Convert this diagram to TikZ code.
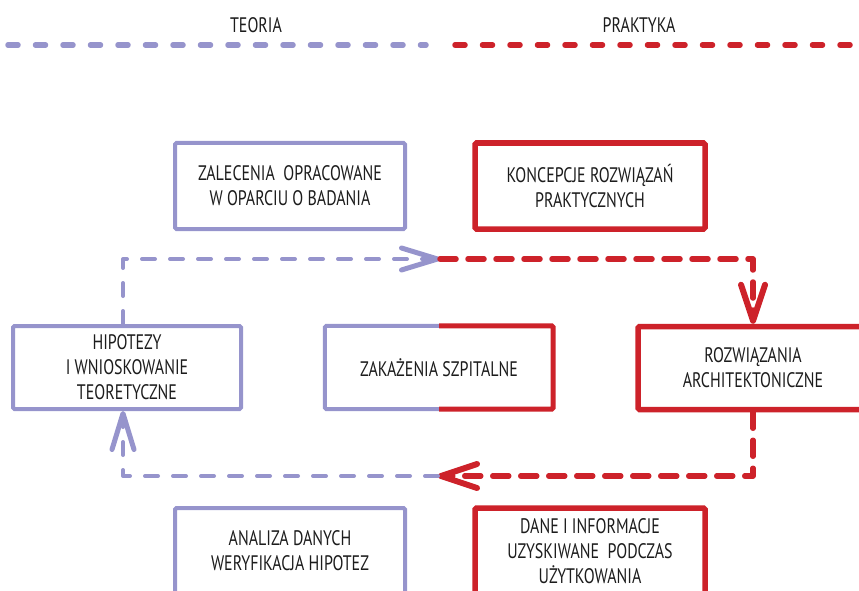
\documentclass[tikz,border=0pt]{standalone}
\usepackage{fontspec}
\setmainfont[FakeStretch=0.76]{PT Sans}
\usetikzlibrary{arrows.meta}
\definecolor{teo}{RGB}{150,148,204}
\definecolor{prak}{RGB}{205,34,42}
\definecolor{txt}{RGB}{28,28,28}
\begin{document}
\begin{tikzpicture}[x=1pt,y=-1pt,
  lbl/.style={font=\fontsize{21}{24}\selectfont, text=txt, inner sep=0pt},
  box/.style={minimum width=230pt, minimum height=86pt, align=center, inner sep=0pt,
    font=\fontsize{21}{25}\selectfont, text=txt, rounded corners=1.5pt},
  tbox/.style={box, draw=teo, line width=4pt},
  pbox/.style={box, draw=prak, line width=5.5pt},
  tline/.style={draw=teo, line width=5.5pt, line cap=round, dash pattern=on 10pt off 17.5pt},
  pline/.style={draw=prak, line width=5.5pt, line cap=round, dash pattern=on 10pt off 17.5pt},
  tloop/.style={draw=teo, line width=4pt, line cap=round, line join=round, dash pattern=on 13pt off 15pt,
    -{Straight Barb[length=36pt,width=22pt,line width=5pt,round]}},
  ploop/.style={draw=prak, line width=5.5pt, line cap=round, line join=round, dash pattern=on 16pt off 12pt,
    -{Straight Barb[length=36pt,width=24pt,line width=6pt,round]}},
]
\useasboundingbox (0,0) rectangle (859,591);
\clip (0,0) rectangle (859,591);

% headings
\node[lbl] (teoria) at (256,25) {TEORIA};
\node[lbl] (praktyka) at (639,25) {PRAKTYKA};
\coordinate (ta) at (8,45);
\coordinate (tb) at (426,45);
\coordinate (pa) at (455,45);
\coordinate (pb) at (880,45);
\draw[tline] (ta) -- (tb);
\draw[pline] (pa) -- (pb);

% boxes
\node[tbox] (zal) at (290,186) {ZALECENIA\ \ OPRACOWANE\\W OPARCIU O BADANIA};
\node[pbox] (kon) at (590,186) {KONCEPCJE ROZWIĄZAŃ\\PRAKTYCZNYCH};
\node[tbox, minimum width=228pt, minimum height=83pt] (hip) at (127,367.5) {HIPOTEZY\\I WNIOSKOWANIE\\TEORETYCZNE};
\node[box, minimum width=228pt, minimum height=83pt] (zak) at (439,367.5) {ZAKAŻENIA SZPITALNE};
\node[pbox, minimum height=83pt] (roz) at (753,368) {ROZWIĄZANIA\\ARCHITEKTONICZNE};
\node[tbox] (ana) at (290,551) {ANALIZA DANYCH\\WERYFIKACJA HIPOTEZ};
\node[pbox] (dan) at (590,551) {DANE I INFORMACJE\\UZYSKIWANE\ \ PODCZAS\\UŻYTKOWANIA};

% split border of central box
\draw[teo, line width=4pt, rounded corners=1.5pt] (zak.north) -| (zak.south west) -- (zak.south);
\draw[prak, line width=5pt, rounded corners=1.5pt] (zak.north) -| (zak.south east) -- (zak.south);

% loop
\coordinate (m1) at (440,259);
\coordinate (m2) at (438,476);
\draw[tloop] ([xshift=-4pt]hip.north) |- (m1);
\draw[ploop] (m1) -| (roz.north);
\draw[ploop] (roz.south) |- (m2);
\draw[tloop] (m2) -| ([xshift=-4pt]hip.south);
\end{tikzpicture}
\end{document}
